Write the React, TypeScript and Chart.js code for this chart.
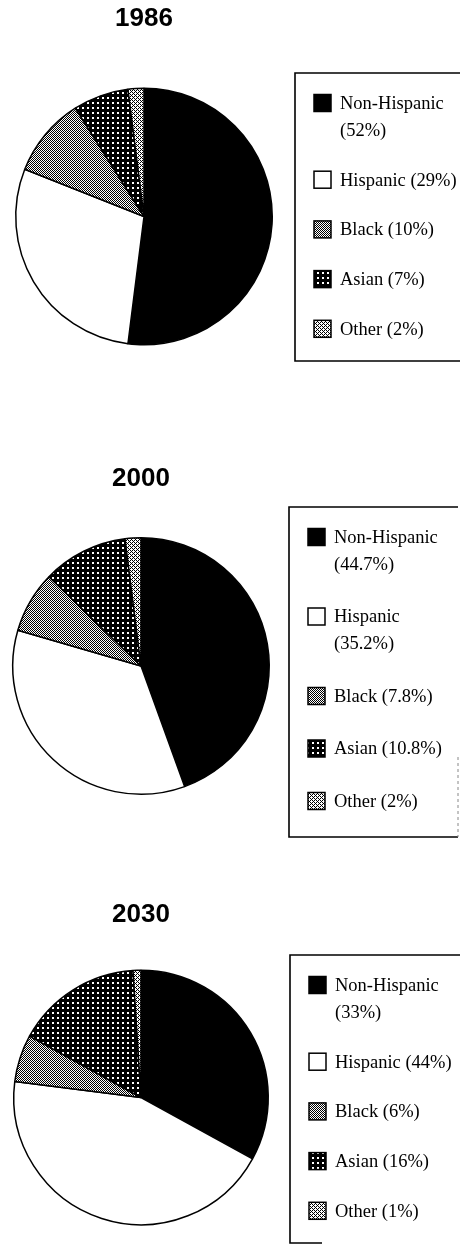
import React, { useEffect, useRef } from "react";
import { Chart, registerables } from "chart.js";

Chart.register(...registerables);

// ---- data ----
const categories = ["Non-Hispanic", "Hispanic", "Black", "Asian", "Other"];
const years = ["1986", "2000", "2030"];
const values1986 = [52, 29, 10, 7, 2];
const values2000 = [44.7, 35.2, 7.8, 10.8, 2];
const values2030 = [33, 44, 6, 16, 1];
const seriesValues = [values1986, values2000, values2030];

// ---- layout (canvas-local coordinates) ----
const layouts = [
  {
    top: 0, height: 420,
    pad: { left: 15, top: 87.5, right: 187, bottom: 74.5 },
    titleX: 144, titleY: 19,
    box: { x: 295, y: 73, bottom: 361, right: 464, rightDashed: false, bottomEnd: 464 },
    firstLine: 104, lineStep: 27, itemGap: 49.7,
  },
  {
    top: 420, height: 440,
    pad: { left: 12, top: 117, right: 190, bottom: 65 },
    titleX: 141, titleY: 59,
    box: { x: 289, y: 87, bottom: 417, right: 458, rightDashed: true, bottomEnd: 458 },
    firstLine: 118, lineStep: 27, itemGap: 52.5,
  },
  {
    top: 860, height: 384,
    pad: { left: 13, top: 109.5, right: 191, bottom: 18.5 },
    titleX: 141, titleY: 55,
    box: { x: 290, y: 95, bottom: 383, right: 464, rightDashed: false, bottomEnd: 322 },
    firstLine: 126, lineStep: 27, itemGap: 49.7,
  },
];

const LEGEND_FONT = '18.5px "Liberation Serif", "Times New Roman", serif';
const TITLE_FONT = 'bold 26px "Liberation Sans", Arial, sans-serif';

function makeTile(w: number, h: number, draw: (c: CanvasRenderingContext2D) => void) {
  const t = document.createElement("canvas");
  t.width = w;
  t.height = h;
  const c = t.getContext("2d")!;
  draw(c);
  return t;
}

function makeFills(ctx: CanvasRenderingContext2D) {
  const checker = makeTile(2, 2, (c) => {
    c.fillStyle = "#fff";
    c.fillRect(0, 0, 2, 2);
    c.fillStyle = "#000";
    c.fillRect(0, 0, 1, 1);
    c.fillRect(1, 1, 1, 1);
  });
  const dots = makeTile(5, 5, (c) => {
    c.fillStyle = "#000";
    c.fillRect(0, 0, 5, 5);
    c.fillStyle = "#fff";
    c.fillRect(2, 2, 2, 2);
  });
  const light = makeTile(4, 4, (c) => {
    c.fillStyle = "#fff";
    c.fillRect(0, 0, 4, 4);
    c.fillStyle = "#000";
    [[0, 0], [2, 0], [1, 1], [0, 2], [2, 2], [3, 3]].forEach(([x, y]) => c.fillRect(x, y, 1, 1));
  });
  return [
    "#000",
    "#fff",
    ctx.createPattern(checker, "repeat")!,
    ctx.createPattern(dots, "repeat")!,
    ctx.createPattern(light, "repeat")!,
  ];
}

function PieChart({ idx }: { idx: number }) {
  const ref = useRef<HTMLCanvasElement | null>(null);
  const L = layouts[idx];
  useEffect(() => {
    const canvas = ref.current!;
    const ctx0 = canvas.getContext("2d")!;
    const fills = makeFills(ctx0);
    const values = seriesValues[idx];

    const overlay = {
      id: "overlay",
      afterDraw(chart: any) {
        const ctx: CanvasRenderingContext2D = chart.ctx;
        ctx.save();
        // title
        ctx.fillStyle = "#000";
        ctx.font = TITLE_FONT;
        ctx.textAlign = "center";
        ctx.textBaseline = "middle";
        ctx.fillText(years[idx], L.titleX, L.titleY);

        // legend box
        const b = L.box;
        ctx.strokeStyle = "#000";
        ctx.lineWidth = 1.6;
        ctx.beginPath();
        ctx.moveTo(b.right, b.y);
        ctx.lineTo(b.x, b.y);
        ctx.lineTo(b.x, b.bottom);
        ctx.lineTo(b.bottomEnd, b.bottom);
        ctx.stroke();
        if (b.rightDashed) {
          ctx.save();
          ctx.strokeStyle = "#888";
          ctx.lineWidth = 1;
          ctx.setLineDash([3, 3]);
          ctx.beginPath();
          ctx.moveTo(b.right, b.y + 250);
          ctx.lineTo(b.right, b.bottom);
          ctx.stroke();
          ctx.restore();
        }

        // legend items
        ctx.font = LEGEND_FONT;
        ctx.textAlign = "left";
        ctx.textBaseline = "middle";
        const textX = b.x + 45;
        const swX = b.x + 19;
        const maxW = 122;
        let y = L.firstLine;
        categories.forEach((cat, i) => {
          const pct = `(${values[i]}%)`;
          const full = `${cat} ${pct}`;
          const lines = ctx.measureText(full).width > maxW ? [cat, pct] : [full];
          // swatch
          const s = 17;
          ctx.fillStyle = fills[i] as any;
          ctx.fillRect(swX, y - s / 2 - 1, s, s);
          ctx.strokeStyle = "#000";
          ctx.lineWidth = 1.5;
          ctx.strokeRect(swX, y - s / 2 - 1, s, s);
          ctx.fillStyle = "#000";
          lines.forEach((ln, k) => {
            ctx.fillText(ln, textX, y + k * L.lineStep);
          });
          y += (lines.length - 1) * L.lineStep + L.itemGap;
        });
        ctx.restore();
      },
    };

    const chart = new Chart(canvas, {
      type: "pie",
      data: {
        labels: categories,
        datasets: [
          {
            data: values,
            backgroundColor: fills as any,
            borderColor: "#000",
            borderWidth: 1.5,
          },
        ],
      },
      options: {
        responsive: false,
        maintainAspectRatio: false,
        animation: false,
        devicePixelRatio: 1,
        layout: { padding: L.pad },
        plugins: {
          legend: { display: false },
          tooltip: { enabled: false },
          title: { display: false },
        },
      },
      plugins: [overlay],
    });
    return () => chart.destroy();
  }, [idx]);

  return (
    <canvas
      ref={ref}
      width={460}
      height={L.height}
      style={{ position: "absolute", left: 0, top: L.top, width: 460, height: L.height }}
    />
  );
}

export default function App() {
  return (
    <div style={{ position: "absolute", left: 0, top: 0, width: 460, height: 1244, background: "#fff", overflow: "hidden" }}>
      {years.map((_, i) => (
        <PieChart key={i} idx={i} />
      ))}
    </div>
  );
}
